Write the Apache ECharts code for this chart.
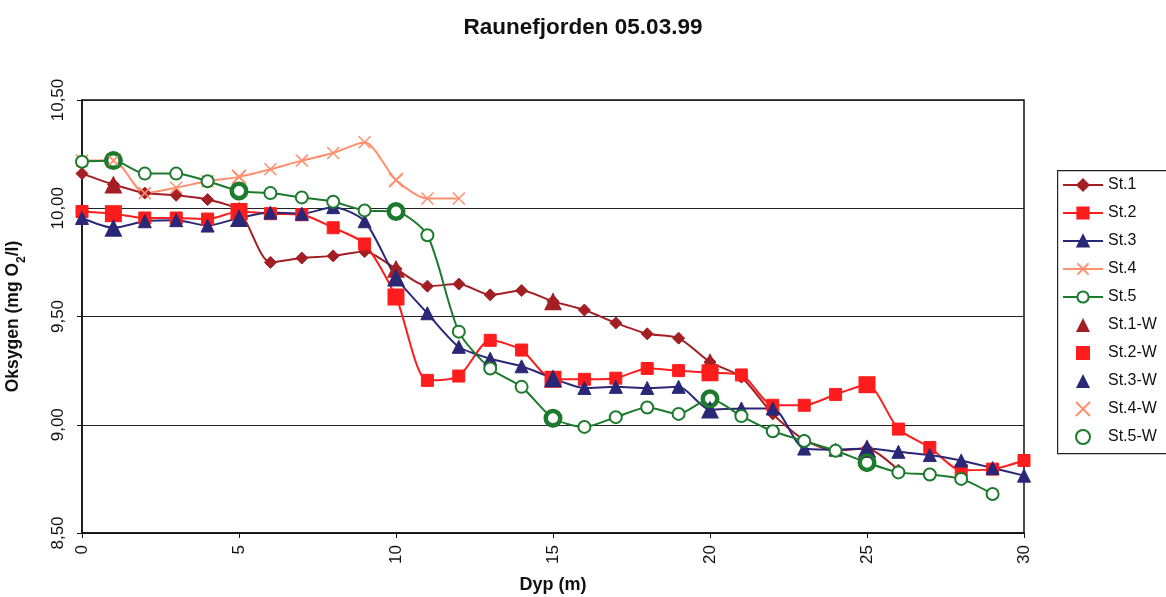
<!DOCTYPE html>
<html>
<head>
<meta charset="utf-8">
<script src="https://cdn.jsdelivr.net/npm/echarts@6/dist/echarts.min.js"></script>
<style>
html,body{margin:0;padding:0;background:#fff;}
#c{width:1166px;height:597px;}
</style>
</head>
<body>
<div id="c"></div>
<script>
const titleText = 'Raunefjorden 05.03.99';
const xTicks = [0, 5, 10, 15, 20, 25, 30];
const yTicks = ['8,50', '9,00', '9,50', '10,00', '10,50'];

const st1Depth = [0,1,2,3,4,5,6,7,8,9,10,11,12,13,14,15,16,17,18,19,20,21,22,23,24,25,26];
const st1Vals  = [10.16,10.11,10.07,10.06,10.04,9.99,9.75,9.77,9.78,9.80,9.72,9.64,9.65,9.60,9.62,9.57,9.53,9.47,9.42,9.40,9.29,9.22,9.05,8.93,8.88,8.89,8.79];

const st2Depth = [0,1,2,3,4,5,6,7,8,9,10,11,12,13,14,15,16,17,18,19,20,21,22,23,24,25,26,27,28,29,30];
const st2Vals  = [9.985,9.975,9.955,9.955,9.95,9.985,9.975,9.97,9.91,9.835,9.59,9.205,9.225,9.39,9.345,9.21,9.21,9.215,9.26,9.25,9.24,9.23,9.09,9.09,9.14,9.185,8.98,8.895,8.79,8.795,8.835];

const st3Depth = [0,1,2,3,4,5,6,7,8,9,10,11,12,13,14,15,16,17,18,19,20,21,22,23,24,25,26,27,28,29,30];
const st3Vals  = [9.955,9.91,9.94,9.945,9.92,9.955,9.98,9.975,10.005,9.94,9.68,9.515,9.36,9.305,9.27,9.215,9.17,9.175,9.17,9.175,9.07,9.075,9.075,8.89,8.885,8.89,8.875,8.86,8.835,8.80,8.765];

const st4Depth = [0,1,2,3,4,5,6,7,8,9,10,11,12];
const st4Vals  = [10.22,10.22,10.07,10.095,10.125,10.145,10.18,10.22,10.255,10.305,10.13,10.045,10.045];

const st5Depth = [0,1,2,3,4,5,6,7,8,9,10,11,12,13,14,15,16,17,18,19,20,21,22,23,24,25,26,27,28,29];
const st5Vals  = [10.215,10.22,10.16,10.16,10.125,10.08,10.07,10.05,10.03,9.99,9.985,9.875,9.43,9.26,9.175,9.03,8.99,9.035,9.08,9.05,9.12,9.04,8.97,8.925,8.88,8.825,8.78,8.77,8.75,8.68];

const wDepth   = [1,5,10,15,20,25];
const st1WVals = [10.11,9.99,9.72,9.57,9.29,8.89];
const st2WVals = [9.975,9.985,9.59,9.21,9.24,9.185];
const st3WVals = [9.91,9.955,9.68,9.215,9.07,8.89];
const st4WDepth = [1,5,10];
const st4WVals = [10.22,10.145,10.13];
const st5WVals = [10.22,10.08,9.985,9.03,9.12,8.825];

const lineNames = ['St.1','St.2','St.3','St.4','St.5'];
const wNames = ['St.1-W','St.2-W','St.3-W','St.4-W','St.5-W'];

const C1 = '#a31f24', C2 = '#ff1c1c', C3 = '#2b2777', C4 = '#ff8f6e', C5 = '#1c7a2c';
const XPATH = 'path://M0,0L10,10M10,0L0,10';

function pairs(d, v){ return d.map((x,i)=>[x, v[i]]); }

const FONT = 'Liberation Sans, Arial, sans-serif';

function lineSeries(name, d, v, color, symbol, size, extra){
  return Object.assign({
    name, type:'line', data: pairs(d,v), smooth:0.25,
    symbol, symbolSize:size,
    lineStyle:{color, width:2},
    itemStyle:{color, borderColor:color, borderWidth:1},
    z:2
  }, extra||{});
}
function wSeries(name, d, v, color, symbol, size, itemStyle){
  return {
    name, type:'scatter', data: pairs(d,v), symbol, symbolSize:size,
    itemStyle: Object.assign({color, opacity:1}, itemStyle || {}), z:3
  };
}

const legendText = {fontFamily:FONT, fontSize:16, color:'#111', lineHeight:16};

const chart = echarts.init(document.getElementById('c'), null, {renderer:'canvas'});
chart.setOption({
  backgroundColor:'#fff',
  animation:false,
  textStyle:{fontFamily:FONT},
  title:{
    text:titleText, left:'center', top:11,
    textStyle:{fontFamily:FONT, fontSize:22.5, fontWeight:'bold', color:'#111'}
  },
  graphic:[{
    type:'rect', left:1057, top:170, z:0, silent:true,
    shape:{x:0, y:0, width:130, height:283},
    style:{fill:'#fff', stroke:'#222', lineWidth:1.2}
  }],
  grid:{left:82, top:100, width:942, height:433, show:true, borderColor:'#111', borderWidth:1.5, outerBoundsMode:'none', containLabel:false},
  legend:[{
    orient:'vertical', left:1057, top:169,
    itemWidth:40, itemHeight:14, itemGap:12,
    padding:[8,40,8,5],
    textStyle:legendText,
    data:lineNames
  },{
    orient:'vertical', left:1070, top:309,
    itemWidth:14, itemHeight:14, itemGap:12,
    padding:[8,40,8,5],
    textStyle:Object.assign({}, legendText, {padding:[0,0,0,13]}),
    data:wNames
  }],
  xAxis:{
    type:'value', min:xTicks[0], max:xTicks[xTicks.length-1], interval:5,
    name:'Dyp (m)', nameLocation:'middle', nameGap:43,
    nameTextStyle:{fontFamily:FONT, fontSize:18, fontWeight:'bold', color:'#111'},
    axisLine:{show:true, lineStyle:{color:'#111', width:1.5}},
    axisTick:{show:true, length:5, lineStyle:{color:'#111'}},
    axisLabel:{rotate:90, fontFamily:FONT, fontSize:17, color:'#111', margin:12},
    splitLine:{show:false}
  },
  yAxis:{
    type:'value', min:8.5, max:10.5, interval:0.5,
    name:'Oksygen (mg O{s|2}/l)', nameLocation:'middle', nameGap:60, nameRotate:90,
    nameTextStyle:{fontFamily:FONT, fontSize:17.5, fontWeight:'bold', color:'#111',
      rich:{s:{fontFamily:FONT, fontSize:12, fontWeight:'bold', color:'#111', verticalAlign:'bottom', padding:[0,0,-6,0]}}},
    axisLine:{show:true, lineStyle:{color:'#111', width:1.5}},
    axisTick:{show:true, length:5, lineStyle:{color:'#111'}},
    axisLabel:{rotate:90, fontFamily:FONT, fontSize:17, color:'#111', margin:15,
      formatter:(v)=>{ const i = Math.round((v-8.5)/0.5); return yTicks[i]; }},
    splitLine:{show:true, lineStyle:{color:'#222', width:1.2}}
  },
  series:[
    lineSeries('St.1', st1Depth, st1Vals, C1, 'diamond', 12),
    lineSeries('St.2', st2Depth, st2Vals, C2, 'rect', 12),
    lineSeries('St.3', st3Depth, st3Vals, C3, 'triangle', 13),
    lineSeries('St.4', st4Depth, st4Vals, C4, XPATH, 12, {itemStyle:{color:C4, borderColor:C4, borderWidth:1.5}}),
    lineSeries('St.5', st5Depth, st5Vals, C5, 'circle', 12, {itemStyle:{color:'#fff', borderColor:C5, borderWidth:2}}),
    wSeries('St.1-W', wDepth, st1WVals, C1, 'triangle', 18),
    wSeries('St.2-W', wDepth, st2WVals, C2, 'rect', 17),
    wSeries('St.3-W', wDepth, st3WVals, C3, 'triangle', 18),
    wSeries('St.4-W', st4WDepth, st4WVals, C4, XPATH, 14, {borderColor:C4, borderWidth:1.8}),
    wSeries('St.5-W', wDepth, st5WVals, C5, 'circle', 16, {color:'rgba(255,255,255,0)', borderColor:C5, borderWidth:3})
  ]
});
</script>
</body>
</html>
